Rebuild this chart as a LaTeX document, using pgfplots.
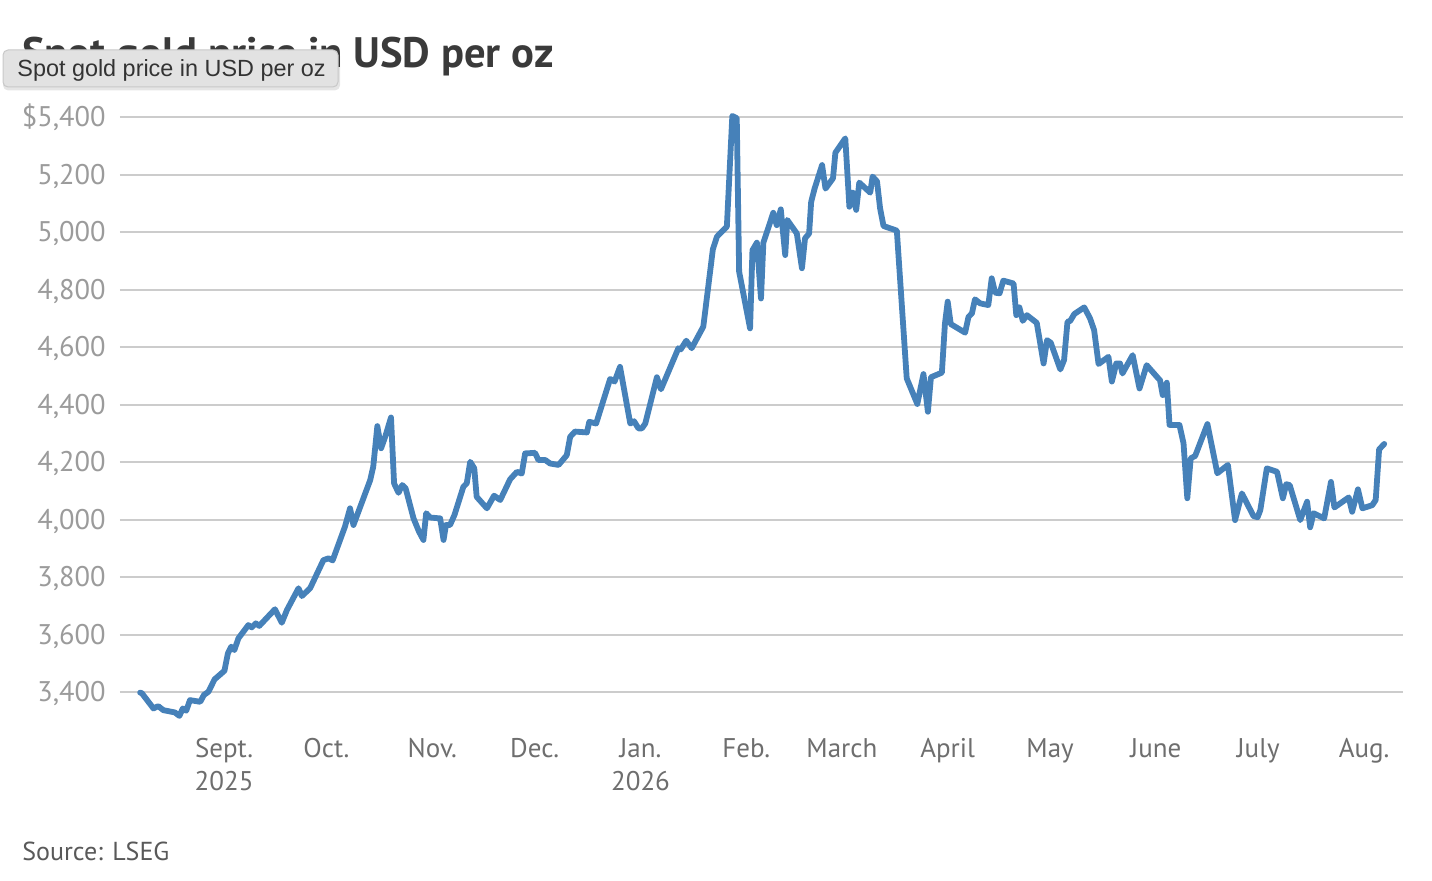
\documentclass[border=0pt]{standalone}
\usepackage{pgfplots}
\pgfplotsset{compat=1.18}
\usepackage{fontspec}
\setmainfont{PT Sans}
\newfontfamily\tipfont{Liberation Sans}
\definecolor{goldline}{RGB}{70,129,185}
\definecolor{gridgray}{RGB}{204,204,204}
\definecolor{ylab}{RGB}{155,155,155}
\definecolor{xlab}{RGB}{110,110,110}
\definecolor{titlec}{RGB}{58,58,58}
\definecolor{tipfill}{RGB}{226,226,226}
\definecolor{tipborder}{RGB}{200,200,200}
\begin{document}
\begin{tikzpicture}[x=1pt,y=1pt]
\path[use as bounding box] (0,0) rectangle (716,440);
\begin{axis}[
  at={(60pt,79.6pt)}, anchor=south west,
  scale only axis, width=641.5pt, height=304.75pt,
  xmin=-30.5, xmax=345.4, ymin=3300, ymax=5420,
  axis line style={draw=none},
  major tick length=0pt,
  ymajorgrids, grid style={color=gridgray, line width=1pt},
  ytick={3400,3600,3800,4000,4200,4400,4600,4800,5000,5200,5400},
  yticklabels={{3,400},{3,600},{3,800},{4,000},{4,200},{4,400},{4,600},{4,800},{5,000},{5,200},{\$5,400}},
  yticklabel style={anchor=base east, inner sep=0pt, xshift=-7pt, yshift=-4.9pt, font=\fontsize{14.2}{16.5}\selectfont, text=ylab},
  xtick={0,30,61,91,122,153,181,212,242,273,303,334},
  xticklabels={{\strut Sept.\\\strut 2025},{\strut Oct.},{\strut Nov.},{\strut Dec.},{\strut Jan.\\\strut 2026},{\strut Feb.},{\strut March},{\strut April},{\strut May},{\strut June},{\strut July},{\strut Aug.}},
  xticklabel style={anchor=north, inner sep=0pt, yshift=-6.6pt, align=center, font=\fontsize{13.5}{16.5}\selectfont, text=xlab},
  clip=false,
]
\addplot[goldline, line width=2.9pt, line join=round, line cap=round] coordinates {
(-24.6,3398) (-24.1,3396) (-20.7,3343) (-19.3,3351) (-17.8,3337) (-14.4,3329)
(-13.1,3317) (-12.1,3343) (-11.1,3335) (-10.0,3372) (-7.0,3366) (-5.9,3390)
(-4.6,3401) (-2.8,3444) (0.1,3474) (1.1,3534) (2.1,3558) (3.0,3546) (4.2,3587)
(7.1,3633) (8.1,3625) (9.3,3639) (10.3,3630) (14.9,3688) (16.9,3641) (18.4,3685)
(21.8,3761) (22.8,3734) (25.2,3761) (29.1,3859) (30.6,3865) (31.8,3858)
(35.4,3975) (36.9,4039) (37.9,3981) (42.8,4137) (43.7,4184) (44.9,4325)
(46.0,4248) (47.2,4288) (48.9,4355) (49.8,4126) (51.1,4093) (52.2,4120)
(53.2,4108) (55.5,4004) (57.1,3958) (58.4,3929) (59.2,4022) (60.4,4007)
(63.3,4004) (64.3,3929) (65.0,3981) (66.2,3981) (67.5,4016) (70.1,4114)
(71.1,4126) (72.1,4201) (73.3,4178) (74.0,4079) (77.0,4039) (79.1,4083)
(80.9,4068) (83.8,4140) (85.8,4166) (87.2,4160) (88.2,4230) (91.1,4232)
(92.1,4207) (94.1,4207) (95.5,4195) (98.0,4190) (100.4,4224) (101.4,4288)
(102.8,4306) (106.3,4303) (107.0,4340) (109.0,4334) (113.1,4489) (114.4,4480)
(116.0,4531) (119.0,4334) (120.1,4342) (121.4,4317) (122.4,4317) (123.4,4334)
(126.8,4495) (128.0,4453) (133.1,4596) (133.8,4592) (135.4,4622) (137.0,4596)
(140.4,4671) (143.2,4940) (144.4,4984) (147.3,5019) (148.9,5404) (150.2,5396)
(150.9,4862) (154.1,4665) (154.8,4937) (156.1,4963) (157.3,4769) (158.0,4963)
(160.9,5067) (161.9,5024) (163.1,5079) (164.4,4920) (165.0,5042) (167.8,4995)
(169.3,4874) (170.2,4978) (171.4,4995) (172.0,5105) (173.0,5151) (175.2,5233)
(176.2,5151) (178.4,5187) (179.1,5276) (182.0,5326) (183.2,5088) (184.2,5137)
(185.2,5077) (186.1,5172) (189.3,5137) (190.0,5193) (191.3,5176) (192.2,5082)
(193.2,5021) (197.1,5005) (200.0,4491) (203.1,4402) (204.9,4506) (206.2,4375)
(207.1,4495) (210.3,4511) (211.2,4682) (212.0,4758) (212.9,4680) (217.1,4650)
(218.1,4705) (219.1,4717) (220.0,4766) (221.5,4752) (223.9,4746) (224.9,4839)
(225.9,4789) (227.2,4787) (228.3,4831) (231.3,4821) (232.1,4711) (233.0,4738)
(234.0,4691) (235.2,4711) (238.1,4684) (240.1,4543) (241.1,4624) (242.2,4615)
(245.0,4522) (246.1,4555) (247.1,4688) (247.9,4691) (249.1,4715) (252.0,4738)
(253.7,4700) (254.9,4659) (256.2,4541) (259.1,4566) (260.1,4480) (261.4,4543)
(262.5,4543) (263.2,4508) (266.2,4572) (268.2,4456) (270.3,4537) (273.7,4491)
(274.2,4485) (275.0,4433) (276.2,4476) (277.0,4329) (279.9,4329) (281.1,4265)
(282.2,4074) (283.2,4213) (284.5,4221) (288.1,4332) (291.0,4161) (294.1,4190)
(296.2,3998) (298.2,4091) (301.6,4012) (302.8,4008) (303.6,4033) (305.5,4178)
(308.5,4166) (310.2,4074) (311.2,4123) (312.2,4120) (315.3,3998) (317.3,4062)
(318.2,3973) (319.2,4022) (322.3,4004) (324.3,4131) (325.3,4042) (329.5,4077)
(330.5,4027) (332.2,4105) (333.5,4039) (336.4,4050) (337.4,4068) (338.4,4244)
(339.9,4263)
};
\end{axis}
% title
\node[anchor=base west, inner sep=0pt, text=titlec, font=\fontsize{21.3}{25}\selectfont\bfseries] at (11,406) {Spot gold price in USD per oz};
% tooltip
\fill[black, opacity=0.10, rounded corners=2.5pt] (1.5,394.8) rectangle (170,414.5);
\draw[tipborder, fill=tipfill, line width=0.5pt, rounded corners=2.5pt] (1.5,396.5) rectangle (169,415);
\node[anchor=base west, inner sep=0pt, text=black!80, font=\tipfont\fontsize{11.7}{14}\selectfont] at (8.5,401.5) {Spot gold price in USD per oz};
% source
\node[anchor=base west, inner sep=0pt, text=black!65, font=\fontsize{13}{16}\selectfont] at (11,10) {Source: LSEG};
\end{tikzpicture}
\end{document}
